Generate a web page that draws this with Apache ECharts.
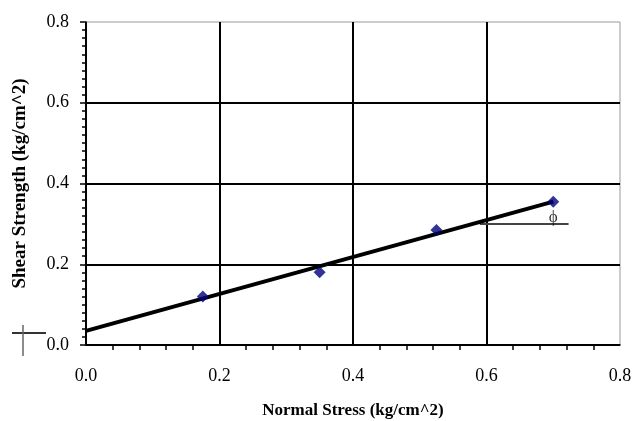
<!DOCTYPE html>
<html>
<head>
<meta charset="utf-8">
<script src="https://cdn.jsdelivr.net/npm/echarts@6/dist/echarts.min.js"></script>
<style>
  html, body { margin: 0; padding: 0; background: #fff; }
  #chart { width: 635px; height: 421px; }
</style>
</head>
<body>
<div id="chart"></div>
<script>
// measured points
var normalStress = [0.175, 0.35, 0.525, 0.70];
var shearStrength = [0.12, 0.18, 0.285, 0.355];
// fitted failure envelope
var fitX = [0.0, 0.70];
var fitY = [0.035, 0.355];
// friction angle marker line
var phiX = [0.59, 0.723];
var phiY = [0.30, 0.30];
var phiLabel = [[0.70, 0.30]];

var xTicks = [0.0, 0.2, 0.4, 0.6, 0.8];
var yTicks = [0.0, 0.2, 0.4, 0.6, 0.8];

var serif = '"Liberation Serif", "DejaVu Serif", serif';

function pairs(xs, ys) {
  return xs.map(function (x, i) { return [x, ys[i]]; });
}

var myChart = echarts.init(document.getElementById('chart'));
myChart.setOption({
  animation: false,
  backgroundColor: '#fff',
  grid: {
    left: 86, right: 15, top: 22, bottom: 76,
    outerBoundsMode: 'none',
    show: true, borderColor: '#999', borderWidth: 1
  },
  xAxis: {
    type: 'value',
    min: xTicks[0], max: xTicks[xTicks.length - 1], interval: 0.2,
    name: 'Normal Stress (kg/cm^2)',
    nameLocation: 'middle', nameGap: 57,
    nameTextStyle: { fontFamily: serif, fontWeight: 'bold', fontSize: 17, color: '#000' },
    axisLine: { onZero: false, lineStyle: { color: '#000', width: 1.5 } },
    axisTick: { show: false },
    minorTick: { show: true, splitNumber: 5, length: 5, lineStyle: { color: '#000', width: 1.5 } },
    axisLabel: { fontFamily: serif, fontSize: 18, color: '#000', margin: 22,
      formatter: function (v) { return v.toFixed(1); } },
    splitLine: { show: true, showMaxLine: false, lineStyle: { color: '#000', width: 2 } }
  },
  yAxis: {
    type: 'value',
    min: yTicks[0], max: yTicks[yTicks.length - 1], interval: 0.2,
    name: 'Shear Strength (kg/cm^2)',
    nameLocation: 'middle', nameGap: 56,
    nameTextStyle: { fontFamily: serif, fontWeight: 'bold', fontSize: 19, color: '#000' },
    axisLine: { onZero: false, lineStyle: { color: '#000', width: 1.5 } },
    axisTick: { show: true, inside: false, length: 6, lineStyle: { color: '#000', width: 1.5 } },
    minorTick: { show: true, splitNumber: 10, length: 4, lineStyle: { color: '#000', width: 1.5 } },
    axisLabel: { fontFamily: serif, fontSize: 18, color: '#000', margin: 17,
      formatter: function (v) { return v.toFixed(1); } },
    splitLine: { show: true, showMaxLine: false, lineStyle: { color: '#000', width: 2 } }
  },
  series: [
    {
      name: 'fit',
      type: 'line',
      data: pairs(fitX, fitY),
      symbol: 'none',
      lineStyle: { color: '#000', width: 4 },
      z: 3
    },
    {
      name: 'phi',
      type: 'line',
      data: pairs(phiX, phiY),
      symbol: 'none',
      lineStyle: { color: '#444', width: 2 },
      z: 2
    },
    {
      name: 'phiLabel',
      type: 'scatter',
      data: phiLabel,
      symbolSize: 0,
      label: {
        show: true, position: 'inside', offset: [0, -6],
        formatter: 'ϕ', fontFamily: serif, fontSize: 17, color: '#000'
      },
      z: 4
    },
    {
      name: 'data',
      type: 'scatter',
      data: pairs(normalStress, shearStrength),
      symbol: 'diamond',
      symbolSize: 12,
      itemStyle: { color: '#00007a' },
      z: 5
    }
  ],
  graphic: [
    { type: 'line', shape: { x1: 12, y1: 333, x2: 46, y2: 333 }, style: { stroke: '#333', lineWidth: 2 } },
    { type: 'line', shape: { x1: 23, y1: 325, x2: 23, y2: 356 }, style: { stroke: '#666', lineWidth: 1.5 } }
  ]
});
</script>
</body>
</html>
